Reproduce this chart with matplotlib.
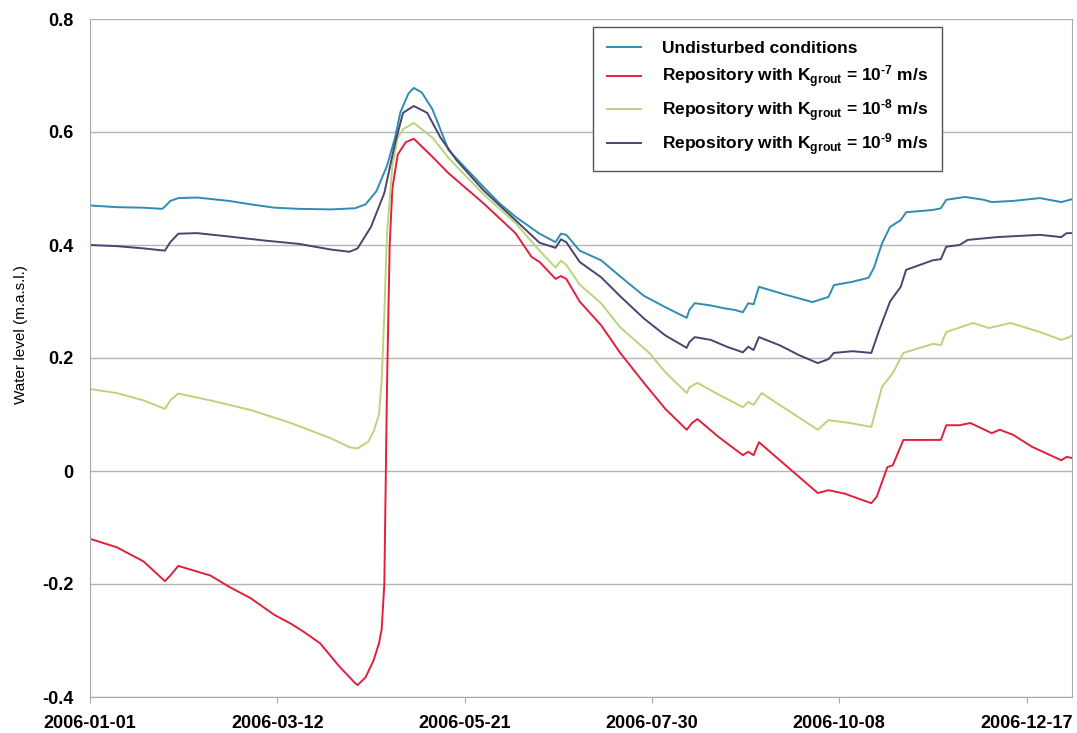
import numpy as np
import pandas as pd
import matplotlib
matplotlib.use("Agg")
import matplotlib.pyplot as plt
import matplotlib.dates as mdates

plt.rcParams['font.family'] = ['Liberation Sans', 'DejaVu Sans']
plt.rcParams['mathtext.fontset'] = 'custom'
plt.rcParams['mathtext.rm'] = 'Liberation Sans:bold'
plt.rcParams['mathtext.default'] = 'rm'

start = pd.Timestamp("2006-01-01")

# days since 2006-01-01 and water level (m.a.s.l.)
undist_days = [0, 10, 20, 27, 28, 30, 33, 40, 52, 60, 69, 78, 90, 99, 103, 107, 111, 114, 116, 119,
               121, 124, 128, 134, 141, 147, 153, 159, 168, 174, 176, 178, 183, 191, 198, 207, 215,
               223, 224, 226, 232, 237, 241, 244, 246, 248, 250, 260, 270, 272, 276, 278, 285, 291,
               293, 296, 299, 303, 305, 315, 318, 320, 327, 334, 337, 345, 355, 363, 367]
undist_vals = [0.470, 0.467, 0.466, 0.464, 0.468, 0.478, 0.483, 0.484, 0.478, 0.472, 0.466, 0.464,
               0.463, 0.465, 0.472, 0.495, 0.540, 0.590, 0.635, 0.668, 0.678, 0.670, 0.640, 0.568,
               0.533, 0.503, 0.474, 0.450, 0.420, 0.405, 0.420, 0.418, 0.390, 0.373, 0.345, 0.310,
               0.290, 0.271, 0.285, 0.297, 0.293, 0.288, 0.285, 0.281, 0.297, 0.295, 0.326, 0.312,
               0.299, 0.302, 0.308, 0.329, 0.335, 0.342, 0.360, 0.403, 0.432, 0.444, 0.458, 0.462,
               0.465, 0.480, 0.485, 0.480, 0.476, 0.478, 0.483, 0.476, 0.481]

k7_days = [0, 10, 20, 28, 30, 33, 45, 52, 60, 69, 75, 80, 86, 93, 99, 100, 103, 106, 108, 109,
           110, 111, 112, 113, 115, 118, 121, 128, 134, 147, 159, 165, 168, 174, 176, 178, 183,
           191, 198, 207, 215, 223, 225, 227, 235, 244, 246, 248, 250, 260, 272, 276, 282, 292,
           294, 298, 300, 304, 318, 320, 325, 329, 337, 340, 345, 352, 363, 365, 367]
k7_vals = [-0.120, -0.135, -0.160, -0.195, -0.185, -0.168, -0.185, -0.205, -0.225, -0.255, -0.270,
           -0.285, -0.305, -0.345, -0.375, -0.379, -0.365, -0.335, -0.305, -0.280, -0.200, 0.150,
           0.400, 0.500, 0.560, 0.582, 0.588, 0.556, 0.527, 0.474, 0.421, 0.379, 0.370, 0.340,
           0.345, 0.340, 0.300, 0.258, 0.210, 0.156, 0.110, 0.073, 0.085, 0.092, 0.060, 0.028,
           0.034, 0.028, 0.051, 0.010, -0.039, -0.034, -0.040, -0.057, -0.046, 0.007, 0.010,
           0.055, 0.055, 0.081, 0.081, 0.085, 0.067, 0.073, 0.064, 0.043, 0.019, 0.025, 0.023]

k8_days = [0, 10, 20, 28, 30, 33, 45, 60, 75, 90, 97, 100, 104, 106, 108, 109, 110, 111, 113, 115,
           117, 121, 128, 134, 147, 159, 168, 174, 176, 178, 183, 191, 198, 209, 215, 223, 224,
           227, 235, 244, 246, 248, 251, 260, 272, 276, 284, 292, 296, 300, 304, 315, 318, 319,
           320, 330, 336, 344, 355, 363, 366, 367]
k8_vals = [0.145, 0.138, 0.125, 0.110, 0.125, 0.137, 0.125, 0.108, 0.085, 0.058, 0.042, 0.040,
           0.052, 0.070, 0.100, 0.160, 0.280, 0.420, 0.540, 0.590, 0.605, 0.616, 0.590, 0.554,
           0.490, 0.439, 0.390, 0.360, 0.372, 0.365, 0.330, 0.297, 0.255, 0.209, 0.175, 0.138,
           0.148, 0.156, 0.135, 0.113, 0.122, 0.117, 0.138, 0.110, 0.073, 0.090, 0.085, 0.078,
           0.149, 0.173, 0.209, 0.225, 0.223, 0.235, 0.246, 0.262, 0.253, 0.262, 0.246, 0.232,
           0.237, 0.240]

k9_days = [0, 10, 20, 28, 30, 33, 40, 52, 65, 78, 90, 97, 100, 105, 110, 114, 117, 121, 126, 131,
           137, 147, 159, 168, 174, 176, 178, 183, 191, 198, 207, 215, 223, 224, 226, 232, 238,
           244, 246, 248, 250, 258, 265, 272, 276, 278, 285, 292, 295, 299, 303, 305, 315, 318,
           320, 325, 328, 339, 355, 363, 365, 367]
k9_vals = [0.400, 0.398, 0.394, 0.390, 0.405, 0.420, 0.421, 0.415, 0.408, 0.402, 0.392, 0.388,
           0.394, 0.432, 0.492, 0.580, 0.634, 0.646, 0.634, 0.590, 0.550, 0.497, 0.444, 0.404,
           0.395, 0.410, 0.405, 0.370, 0.343, 0.310, 0.270, 0.240, 0.218, 0.228, 0.237, 0.232,
           0.220, 0.210, 0.220, 0.214, 0.237, 0.222, 0.205, 0.191, 0.198, 0.209, 0.212, 0.209,
           0.250, 0.300, 0.326, 0.356, 0.373, 0.375, 0.397, 0.400, 0.409, 0.414, 0.418, 0.414,
           0.421, 0.421]

series = [
    (undist_days, undist_vals, "#2f8db3", "Undisturbed conditions"),
    (k7_days, k7_vals, "#e0203c", r"Repository with K$_{\mathrm{grout}}$ = 10$^{\text{-}7}$ m/s"),
    (k8_days, k8_vals, "#b9d57a", r"Repository with K$_{\mathrm{grout}}$ = 10$^{\text{-}8}$ m/s"),
    (k9_days, k9_vals, "#4a4470", r"Repository with K$_{\mathrm{grout}}$ = 10$^{\text{-}9}$ m/s"),
]

fig = plt.figure(figsize=(10.77, 7.33), dpi=100)
ax = fig.add_axes([90 / 1077, 36 / 733, 982 / 1077, 678 / 733])

for d, v, c, lab in series:
    dates = start + pd.to_timedelta(d, unit="D")
    ax.plot(dates, v, color=c, lw=1.4, label=lab)

ax.set_ylim(-0.4, 0.8)
ax.set_yticks([-0.4, -0.2, 0, 0.2, 0.4, 0.6, 0.8])
ax.set_yticklabels(["-0.4", "-0.2", "0", "0.2", "0.4", "0.6", "0.8"])
ax.set_xlim(start, start + pd.Timedelta(days=367))
ticks = [start + pd.Timedelta(days=70 * i) for i in range(6)]
ax.set_xticks(ticks)
ax.xaxis.set_major_formatter(mdates.DateFormatter("%Y-%m-%d"))

ax.grid(axis="y", color="#b4b4b4", lw=1)
ax.set_axisbelow(True)
for s in ax.spines.values():
    s.set_color("#a8a8a8")
ax.spines["top"].set_visible(False)

ax.tick_params(axis="y", length=0, pad=12, labelsize=13)
ax.tick_params(axis="x", length=4, color="#a8a8a8", pad=9, labelsize=13)
for t in ax.get_xticklabels() + ax.get_yticklabels():
    t.set_fontweight("bold")

ax.set_ylabel("Water level (m.a.s.l.)", fontsize=11)
ax.yaxis.set_label_coords(-0.063, 0.535)

leg = ax.legend(loc="upper left", bbox_to_anchor=(0.512, 0.988), borderaxespad=0,
                fancybox=False, edgecolor="#555555", framealpha=1, handlelength=2.0,
                handletextpad=1.2, labelspacing=0.42, borderpad=0.8,
                prop={"weight": "bold", "size": 12.5})
leg.get_frame().set_linewidth(1.0)

fig.savefig("out.png", dpi=100)
